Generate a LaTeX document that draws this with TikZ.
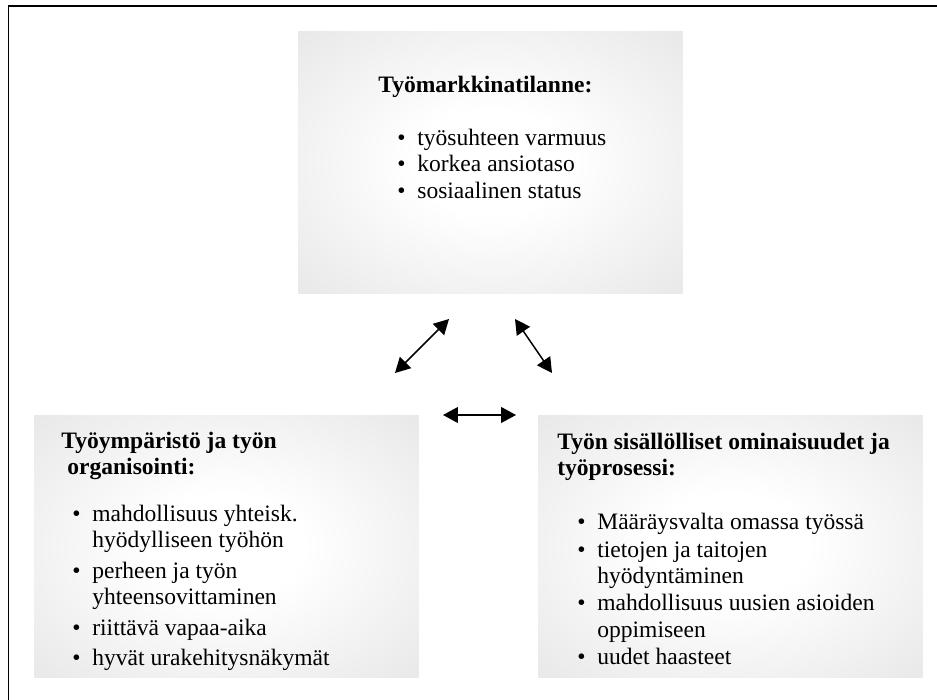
\documentclass[tikz,border=0pt]{standalone}
\usepackage{fontspec}
\setmainfont{Liberation Serif}
\usetikzlibrary{arrows.meta}

\definecolor{boxedge}{HTML}{DBDBDB}
\pgfdeclareradialshading{boxglow}{\pgfpoint{0bp}{0bp}}{color(0bp)=(white); color(10bp)=(white); color(50bp)=(boxedge); color(100bp)=(boxedge)}

\newcommand{\bul}{\makebox[0.4cm][l]{\textbullet}}
\newcommand{\cont}{\hspace*{0.4cm}}

\begin{document}
\begin{tikzpicture}[x=0.02cm, y=-0.02cm,
        panel/.style={rectangle, shading=boxglow, minimum width=7.7cm, minimum height=5.26cm, inner sep=0pt},
        head/.style={font=\bfseries\fontsize{13.4}{15}\selectfont, align=left, anchor=base west, inner sep=0pt},
        items/.style={font=\fontsize{13.4}{15}\selectfont, align=left, anchor=base west, inner sep=0pt},
        link/.style={{Triangle[length=8.5pt,width=9pt]}-{Triangle[length=8.5pt,width=9pt]}, line width=0.85pt}]
        \useasboundingbox (0,0) rectangle (937,700);
        \draw[line width=1.1pt] (937,5.7) -- (8.5,5.7) -- (8.5,700);

        % Nodes (multi-line texts sit on the baseline of their last line)
        \node[panel] (market) at (490.5,162.5) {};
        \node[panel] (setting) at (226.5,546.5) {};
        \node[panel] (content) at (730.5,546.5) {};

        \node[head] (marketHead) at (378,92) {Työmarkkinatilanne:};
        \node[items] (marketList) at (397,198) {\bul työsuhteen varmuus\\ \bul korkea ansiotaso\\ \bul sosiaalinen status};

        \node[head] (settingHead) at (61,474.5) {Työympäristö ja työn\\ \hspace*{0.12cm}organisointi:};
        \node[items] (settingList) at (72,665.5) {\bul mahdollisuus yhteisk.\\ \cont hyödylliseen työhön\\[2.3pt] \bul perheen ja työn\\ \cont yhteensovittaminen\\[2.3pt] \bul riittävä vapaa-aika\\[2.3pt] \bul hyvät urakehitysnäkymät};

        \node[head] (contentHead) at (557,475.5) {Työn sisällölliset ominaisuudet ja\\ työprosessi:};
        \node[items] (contentList) at (577,664.7) {\bul Määräysvalta omassa työssä\\[0.6pt] \bul tietojen ja taitojen\\ \cont hyödyntäminen\\[0.6pt] \bul mahdollisuus uusien asioiden\\ \cont oppimiseen\\[0.6pt] \bul uudet haasteet};

        \coordinate (leftLow) at (395,373);
        \coordinate (leftHigh) at (449,319);
        \coordinate (rightHigh) at (515,319);
        \coordinate (rightLow) at (552,373);
        \coordinate (midLeft) at (443,415);
        \coordinate (midRight) at (516,415);

        % Edges
        \draw[link] (leftLow) -- (leftHigh);
        \draw[link] (rightHigh) -- (rightLow);
        \draw[link] (midLeft) -- (midRight);
\end{tikzpicture}
\end{document}
